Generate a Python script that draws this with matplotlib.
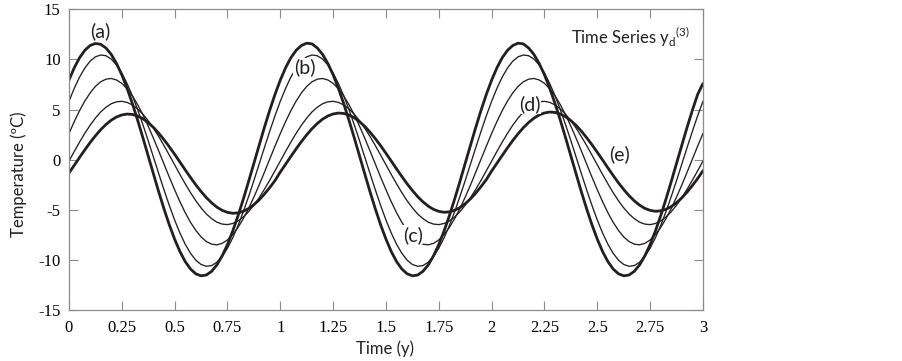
import matplotlib
matplotlib.use("Agg")
import matplotlib.pyplot as plt

time_y = [round(0.025 * i, 3) for i in range(121)]

curve_a = [
    7.94, 9.17, 10.17, 10.91, 11.39, 11.59, 11.51, 11.14, 10.50, 9.59,
    8.46, 7.11, 5.59, 3.93, 2.17, 0.36, -1.45, -3.24, -4.94, -6.52,
    -7.94, -9.17, -10.17, -10.91, -11.39, -11.59, -11.51, -11.14, -10.50, -9.59,
    -8.46, -7.11, -5.59, -3.93, -2.17, -0.36, 1.45, 3.24, 4.94, 6.52,
    7.94, 9.17, 10.17, 10.91, 11.39, 11.62, 11.55, 11.14, 10.50, 9.59,
    8.46, 7.11, 5.59, 3.93, 2.17, 0.36, -1.45, -3.24, -4.94, -6.52,
    -7.94, -9.17, -10.17, -10.91, -11.39, -11.59, -11.51, -11.14, -10.50, -9.59,
    -8.46, -7.11, -5.59, -3.93, -2.17, -0.36, 1.45, 3.24, 4.94, 6.52,
    7.94, 9.17, 10.17, 10.91, 11.39, 11.62, 11.55, 11.14, 10.50, 9.59,
    8.46, 7.11, 5.59, 3.93, 2.17, 0.36, -1.45, -3.24, -4.94, -6.52,
    -7.94, -9.17, -10.17, -10.91, -11.39, -11.59, -11.51, -11.14, -10.50, -9.59,
    -8.46, -7.11, -5.59, -3.93, -2.17, -0.36, 1.45, 3.24, 4.94, 6.52,
    7.60]

curve_b = [
    5.83, 7.12, 8.24, 9.14, 9.83, 10.26, 10.44, 10.37, 10.03, 9.45,
    8.63, 7.59, 6.37, 4.98, 3.47, 1.88, 0.23, -1.42, -3.04, -4.59,
    -6.03, -7.32, -8.44, -9.34, -10.03, -10.46, -10.64, -10.57, -10.23, -9.65,
    -8.83, -7.79, -6.57, -5.18, -3.67, -2.08, -0.43, 1.22, 2.84, 4.39,
    5.83, 7.12, 8.24, 9.14, 9.83, 10.26, 10.44, 10.37, 10.03, 9.45,
    8.63, 7.59, 6.37, 4.98, 3.47, 1.88, 0.23, -1.42, -3.04, -4.59,
    -6.03, -7.32, -8.44, -9.34, -10.03, -10.46, -10.64, -10.57, -10.23, -9.65,
    -8.83, -7.79, -6.57, -5.18, -3.67, -2.08, -0.43, 1.22, 2.84, 4.39,
    5.83, 7.12, 8.24, 9.14, 9.83, 10.26, 10.44, 10.37, 10.03, 9.45,
    8.63, 7.59, 6.37, 4.98, 3.47, 1.88, 0.23, -1.42, -3.04, -4.59,
    -6.03, -7.32, -8.44, -9.34, -10.03, -10.46, -10.64, -10.57, -10.23, -9.65,
    -8.83, -7.79, -6.57, -5.18, -3.67, -2.08, -0.43, 1.22, 2.84, 4.39,
    5.83]

curve_c = [
    2.61, 3.80, 4.89, 5.85, 6.66, 7.31, 7.77, 8.03, 8.10, 7.95,
    7.61, 7.07, 6.36, 5.48, 4.47, 3.33, 2.12, 0.84, -0.46, -1.76,
    -3.01, -4.20, -5.29, -6.25, -7.06, -7.71, -8.17, -8.43, -8.50, -8.35,
    -8.01, -7.47, -6.76, -5.88, -4.87, -3.73, -2.52, -1.24, 0.06, 1.36,
    2.61, 3.80, 4.89, 5.85, 6.66, 7.31, 7.77, 8.03, 8.10, 7.95,
    7.61, 7.07, 6.36, 5.48, 4.47, 3.33, 2.12, 0.84, -0.46, -1.76,
    -3.01, -4.20, -5.29, -6.25, -7.06, -7.71, -8.17, -8.43, -8.50, -8.35,
    -8.01, -7.47, -6.76, -5.88, -4.87, -3.73, -2.52, -1.24, 0.06, 1.36,
    2.61, 3.80, 4.89, 5.85, 6.66, 7.31, 7.77, 8.03, 8.10, 7.95,
    7.61, 7.07, 6.36, 5.48, 4.47, 3.33, 2.12, 0.84, -0.46, -1.76,
    -3.01, -4.20, -5.29, -6.25, -7.06, -7.71, -8.17, -8.43, -8.50, -8.35,
    -8.01, -7.47, -6.76, -5.88, -4.87, -3.73, -2.52, -1.24, 0.06, 1.36,
    2.61]

curve_d = [
    -0.14, 0.82, 1.75, 2.63, 3.44, 4.15, 4.76, 5.23, 5.58, 5.77,
    5.82, 5.71, 5.46, 5.06, 4.53, 3.88, 3.13, 2.29, 1.39, 0.44,
    -0.52, -1.48, -2.41, -3.29, -4.10, -4.81, -5.42, -5.89, -6.24, -6.43,
    -6.48, -6.37, -6.12, -5.72, -5.19, -4.54, -3.79, -2.95, -2.05, -1.10,
    -0.14, 0.82, 1.75, 2.63, 3.44, 4.15, 4.76, 5.23, 5.58, 5.77,
    5.82, 5.71, 5.46, 5.06, 4.53, 3.88, 3.13, 2.29, 1.39, 0.44,
    -0.52, -1.48, -2.41, -3.29, -4.10, -4.81, -5.42, -5.89, -6.24, -6.43,
    -6.48, -6.37, -6.12, -5.72, -5.19, -4.54, -3.79, -2.95, -2.05, -1.10,
    -0.14, 0.82, 1.75, 2.63, 3.44, 4.15, 4.76, 5.23, 5.58, 5.77,
    5.82, 5.71, 5.46, 5.06, 4.53, 3.88, 3.13, 2.29, 1.39, 0.44,
    -0.52, -1.48, -2.41, -3.29, -4.10, -4.81, -5.42, -5.89, -6.24, -6.43,
    -6.48, -6.37, -6.12, -5.72, -5.19, -4.54, -3.79, -2.95, -2.05, -1.10,
    -0.14]

curve_e = [
    -1.33, -0.56, 0.22, 0.98, 1.71, 2.38, 2.99, 3.51, 3.94, 4.26,
    4.46, 4.55, 4.51, 4.35, 4.08, 3.69, 3.21, 2.63, 1.98, 1.28,
    0.53, -0.24, -1.02, -1.78, -2.51, -3.18, -3.79, -4.31, -4.74, -5.06,
    -5.26, -5.35, -5.31, -5.15, -4.88, -4.49, -4.01, -3.43, -2.78, -2.08,
    -1.23, -0.46, 0.32, 1.08, 1.81, 2.48, 3.09, 3.61, 4.04, 4.36,
    4.56, 4.65, 4.61, 4.45, 4.18, 3.79, 3.31, 2.73, 2.08, 1.38,
    0.63, -0.14, -0.92, -1.68, -2.41, -3.08, -3.69, -4.21, -4.64, -4.96,
    -5.16, -5.25, -5.21, -5.05, -4.78, -4.39, -3.91, -3.33, -2.68, -1.98,
    -1.13, -0.36, 0.42, 1.18, 1.91, 2.58, 3.19, 3.71, 4.14, 4.46,
    4.66, 4.75, 4.71, 4.55, 4.28, 3.89, 3.41, 2.83, 2.18, 1.48,
    0.73, -0.04, -0.82, -1.58, -2.31, -2.98, -3.59, -4.11, -4.54, -4.86,
    -5.06, -5.15, -5.11, -4.95, -4.68, -4.29, -3.81, -3.23, -2.58, -1.88,
    -1.10]

x_ticks = [0, 0.25, 0.5, 0.75, 1, 1.25, 1.5, 1.75, 2, 2.25, 2.5, 2.75, 3]
x_tick_labels = ["0", "0.25", "0.5", "0.75", "1", "1.25", "1.5", "1.75",
                 "2", "2.25", "2.5", "2.75", "3"]
y_ticks = [-15, -10, -5, 0, 5, 10, 15]
y_tick_labels = ["-15", "-10", "-5", "0", "5", "10", "15"]

curve_labels = ["(a)", "(b)", "(c)", "(d)", "(e)"]
label_x = [0.147, 1.114, 1.626, 2.18, 2.607]
label_y = [12.8, 9.2, -7.5, 5.5, 0.5]

# ---- figure ----
ink = "#231f20"
gray = "#8c8c8c"
fig = plt.figure(figsize=(9.03, 3.61), dpi=100)
ax = fig.add_axes([0.0764, 0.1413, 0.7021, 0.8329])

series = [curve_a, curve_b, curve_c, curve_d, curve_e]
widths = [2.0, 0.95, 0.95, 0.95, 2.0]
for ys, lw in zip(series, widths):
    ax.plot(time_y, ys, color=ink, lw=lw, solid_capstyle="round",
            solid_joinstyle="round", zorder=2)

ax.set_xlim(0, 3)
ax.set_ylim(-15, 15)
ax.set_xticks(x_ticks)
ax.set_xticklabels(x_tick_labels, family="Liberation Serif", fontsize=12)
ax.set_yticks(y_ticks)
ax.set_yticklabels(y_tick_labels, family="Liberation Serif", fontsize=12)
ax.tick_params(direction="in", length=6.5, width=0.8, color=gray,
               top=True, right=True, labelcolor="black")
ax.tick_params(axis="x", pad=7)
ax.tick_params(axis="y", pad=6)
for sp in ax.spines.values():
    sp.set_color(gray)
    sp.set_linewidth(0.9)

lab_font = dict(family="Lato", fontsize=12, color=ink)
ax.set_xlabel("Time (y)", **lab_font)
ax.set_ylabel("Temperature (\u00baC)", **lab_font)
ax.xaxis.set_label_coords(0.498, -0.100)
ax.yaxis.set_label_coords(-0.066, 0.452)

# curve labels (placed on the curves with a white mask, as in the reference)
for i, (txt, lx, ly) in enumerate(zip(curve_labels, label_x, label_y)):
    kw = dict(family="Lato", fontsize=14, color=ink, ha="center", va="center",
              zorder=5)
    if i in (1, 2, 3):
        kw["bbox"] = dict(boxstyle="square,pad=0.02", fc="white", ec="none")
    ax.text(lx, ly, txt, **kw)

ax.text(0.9795, 0.8846,
        r"Time Series y$_{\mathregular{d}}{}^{\mathregular{(3)}}$",
        transform=ax.transAxes, ha="right", va="baseline",
        family="Lato", fontsize=12, color=ink)

fig.savefig("out.png", dpi=100)
